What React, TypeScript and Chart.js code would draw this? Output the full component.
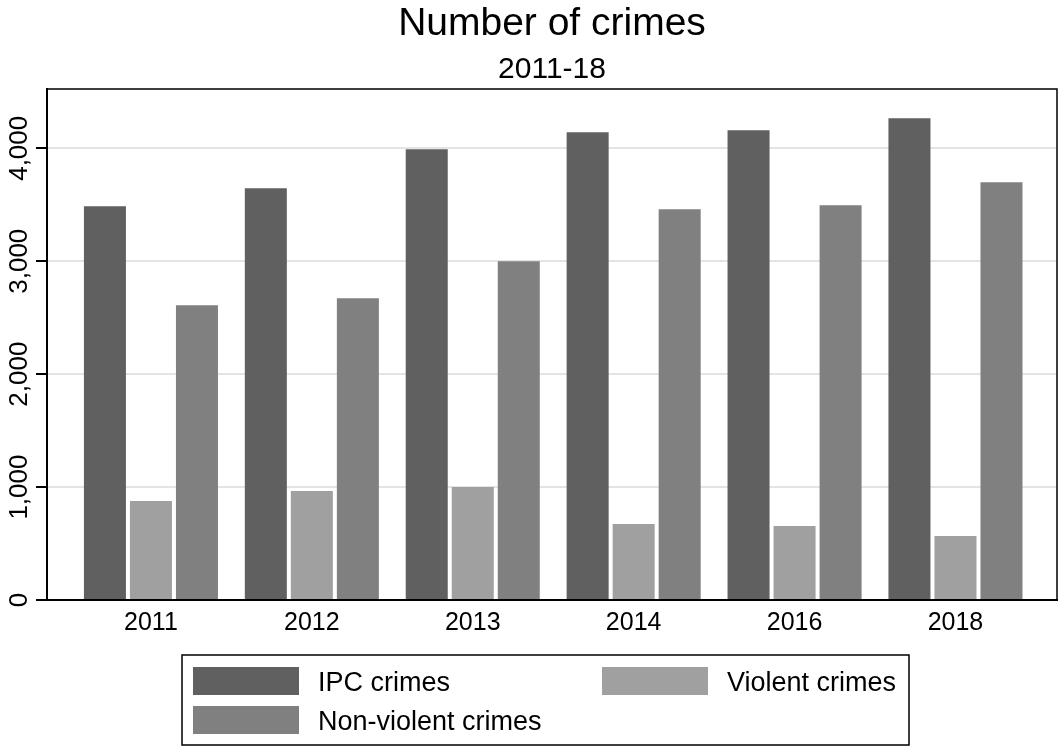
import React, { useEffect, useRef } from "react";
import { Chart, registerables } from "chart.js";

Chart.register(...registerables);

const years = ["2011", "2012", "2013", "2014", "2016", "2018"];
const ipcCrimes = [3487, 3646, 3991, 4142, 4159, 4265];
const violentCrimes = [876, 965, 1000, 673, 655, 566];
const nonViolentCrimes = [2611, 2673, 3000, 3460, 3496, 3699];
const yTickValues = [0, 1000, 2000, 3000, 4000];
const seriesLabels = ["IPC crimes", "Violent crimes", "Non-violent crimes"];
const seriesColors = ["#606060", "#a0a0a0", "#808080"];
const titleText = "Number of crimes";
const subtitleText = "2011-18";

const FONT = "'Liberation Sans', Arial, Helvetica, sans-serif";

const fmt = (v: number) => v.toLocaleString("en-US");

const framePlugin = {
  id: "stataFrame",
  afterDraw(chart: any) {
    const { ctx, chartArea } = chart;
    const { left, right, top, bottom } = chartArea;
    ctx.save();
    // top and right frame lines
    ctx.strokeStyle = "#000";
    ctx.lineWidth = 1.5;
    ctx.beginPath();
    ctx.moveTo(left, top);
    ctx.lineTo(right, top);
    ctx.lineTo(right, bottom);
    ctx.stroke();

    // rotated y tick labels
    const yScale = chart.scales.y;
    ctx.fillStyle = "#000";
    ctx.font = `26px ${FONT}`;
    ctx.textAlign = "center";
    ctx.textBaseline = "alphabetic";
    yTickValues.forEach((v) => {
      const py = yScale.getPixelForValue(v);
      ctx.save();
      ctx.translate(left - 20, py);
      ctx.rotate(-Math.PI / 2);
      ctx.fillText(fmt(v), 0, 0);
      ctx.restore();
    });

    // legend box
    const bx = 182, by = 655, bw = 727, bh = 90;
    ctx.lineWidth = 1.5;
    ctx.strokeStyle = "#000";
    ctx.strokeRect(bx, by, bw, bh);
    const swW = 106, swH = 28;
    const cols = [193, 602];
    const rows = [667, 706];
    ctx.font = `27px ${FONT}`;
    ctx.textAlign = "left";
    ctx.textBaseline = "middle";
    chart.data.datasets.forEach((ds: any, i: number) => {
      const cx = cols[i % 2];
      const ry = rows[Math.floor(i / 2)];
      ctx.fillStyle = ds.backgroundColor;
      ctx.fillRect(cx, ry, swW, swH);
      ctx.fillStyle = "#000";
      ctx.fillText(ds.label, cx + swW + 19, ry + swH / 2 + 3);
    });
    ctx.restore();
  },
};

export default function App() {
  const canvasRef = useRef<HTMLCanvasElement | null>(null);

  useEffect(() => {
    if (!canvasRef.current) return;
    const seriesValues = [ipcCrimes, violentCrimes, nonViolentCrimes];
    const chart = new Chart(canvasRef.current, {
      type: "bar",
      data: {
        datasets: seriesValues.map((vals, s) => ({
          label: seriesLabels[s],
          data: vals.map((y, i) => ({ x: i, y })),
          backgroundColor: seriesColors[s],
          borderWidth: 0,
          categoryPercentage: 0.858,
          barPercentage: 0.913,
        })),
      },
      options: {
        responsive: false,
        animation: false,
        layout: { padding: { left: 0, right: 1, top: 0, bottom: 103 } },
        plugins: {
          legend: { display: false },
          tooltip: { enabled: false },
          title: {
            display: true,
            text: titleText,
            fullSize: false,
            color: "#000",
            font: { size: 39, family: FONT, weight: "normal" },
            padding: { top: 0.6, bottom: 4.6 },
          },
          subtitle: {
            display: true,
            text: subtitleText,
            fullSize: false,
            color: "#000",
            font: { size: 30, family: FONT, weight: "normal" },
            padding: { top: 0, bottom: 1 },
          },
        },
        scales: {
          x: {
            type: "linear",
            offset: false,
            min: -0.646,
            max: 5.631,
            afterBuildTicks: (s: any) => {
              s.ticks = years.map((_, i) => ({ value: i }));
            },
            grid: { display: false, drawTicks: false, offset: false },
            border: { display: true, color: "#000", width: 2 },
            ticks: {
              padding: 8,
              color: "#000",
              font: { size: 25, family: FONT },
              callback: (v: any) => years[Math.round(Number(v))] ?? "",
              maxRotation: 0,
              autoSkip: false,
            },
          },
          y: {
            type: "linear",
            min: 0,
            max: 4525,
            afterBuildTicks: (s: any) => {
              s.ticks = yTickValues.map((v) => ({ value: v }));
            },
            afterFit: (s: any) => {
              s.width = 47;
            },
            grid: {
              color: "#e4e4e4",
              lineWidth: 2,
              drawTicks: true,
              tickLength: 11,
              tickColor: "#000",
              tickWidth: 2,
            },
            border: { display: true, color: "#000", width: 2 },
            ticks: { display: false },
          },
        },
      },
      plugins: [framePlugin],
    } as any);
    return () => chart.destroy();
  }, []);

  return (
    <div style={{ position: "fixed", left: 0, top: 0, width: 1058, height: 749, background: "#fff" }}>
      <canvas ref={canvasRef} width={1058} height={749} style={{ display: "block" }} />
    </div>
  );
}
